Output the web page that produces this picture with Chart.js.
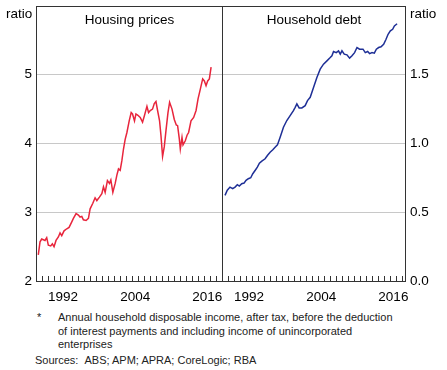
<!DOCTYPE html>
<html>
<head>
<meta charset="utf-8">
<script src="https://cdn.jsdelivr.net/npm/chart.js@4.4.0/dist/chart.umd.min.js"></script>
<style>
  body { margin: 0; background: #fff; font-family: Arial, "Liberation Sans", sans-serif; }
  #wrap { position: relative; width: 447px; height: 370px; overflow: hidden; }
  canvas { position: absolute; top: 0; }
  .lbl { position: absolute; font-size: 13.5px; color: #000; white-space: nowrap; line-height: 1; }
  .note { position: absolute; font-size: 11px; color: #222; line-height: 13.5px; }
</style>
</head>
<body>
<div id="wrap">
  <canvas id="housingChart" width="223" height="305" style="left:0"></canvas>
  <canvas id="debtChart" width="225" height="305" style="left:222px"></canvas>
  <div class="lbl" style="left:6px;top:7px">ratio</div>
  <div class="lbl" style="left:410px;top:7px">ratio</div>
  <div class="lbl" style="left:36px;width:187px;text-align:center;top:13px">Housing prices</div>
  <div class="lbl" style="left:222px;width:184px;text-align:center;top:13px">Household debt</div>
  <div class="note" style="left:37px;top:311px">*</div>
  <div class="note" style="left:58px;top:311px;width:345px">Annual household disposable income, after tax, before the deduction of interest payments and including income of unincorporated enterprises</div>
  <div class="note" style="left:35px;top:354px">Sources:&nbsp;&nbsp;ABS; APM; APRA; CoreLogic; RBA</div>
</div>
<script>
// housing prices to income ratio (left panel)
const housingYears = [1988.38, 1988.67, 1988.95, 1989.5, 1989.78, 1990.05, 1990.45, 1990.72, 1991.0, 1991.33,
  1991.72, 1992.0, 1992.28, 1992.67, 1993.12, 1993.5, 1993.95, 1994.22, 1994.67, 1995.05,
  1995.33, 1995.62, 1995.88, 1996.33, 1996.72, 1997.0, 1997.45, 1997.83, 1998.12, 1998.55,
  1998.95, 1999.22, 1999.5, 1999.88, 2000.22, 2000.45, 2000.78, 2001.17, 2001.45, 2001.72,
  2002.0, 2002.28, 2002.55, 2002.83, 2003.12, 2003.5, 2003.83, 2004.05, 2004.38, 2004.62,
  2004.95, 2005.33, 2005.72, 2006.05, 2006.45, 2006.72, 2007.0, 2007.38, 2007.67, 2007.95,
  2008.22, 2008.55, 2008.78, 2009.05, 2009.33, 2009.62, 2009.95, 2010.22, 2010.62, 2011.0,
  2011.33, 2011.55, 2011.83, 2012.0, 2012.28, 2012.45, 2012.83, 2013.12, 2013.38, 2013.78,
  2014.22, 2014.62, 2014.95, 2015.33, 2015.72, 2016.0, 2016.28, 2016.55, 2016.83, 2017.12];
const housingRatio = [2.38, 2.57, 2.61, 2.59, 2.63, 2.52, 2.51, 2.54, 2.50, 2.59,
  2.64, 2.70, 2.66, 2.73, 2.76, 2.78, 2.86, 2.91, 2.98, 2.96,
  2.93, 2.94, 2.89, 2.88, 2.91, 3.05, 3.13, 3.21, 3.17, 3.22,
  3.27, 3.37, 3.29, 3.46, 3.42, 3.47, 3.29, 3.42, 3.54, 3.63,
  3.61, 3.75, 3.92, 4.06, 4.16, 4.33, 4.45, 4.43, 4.33, 4.43,
  4.41, 4.38, 4.31, 4.41, 4.54, 4.45, 4.48, 4.50, 4.58, 4.61,
  4.48, 4.33, 4.12, 3.81, 3.95, 4.19, 4.45, 4.60, 4.50, 4.35,
  4.27, 4.26, 4.07, 3.92, 4.09, 3.98, 4.04, 4.12, 4.16, 4.33,
  4.38, 4.48, 4.65, 4.79, 4.94, 4.91, 4.84, 4.91, 4.94, 5.11];

// household debt to income ratio (right panel)
const debtYears = [1988.5, 1988.88, 1989.33, 1989.78, 1990.17, 1990.55, 1990.88, 1991.28, 1991.67, 1992.0,
  1992.38, 1992.78, 1993.12, 1993.5, 1993.88, 1994.22, 1994.62, 1995.17, 1995.55, 1996.0,
  1996.45, 1996.83, 1997.22, 1997.67, 1998.22, 1998.78, 1999.33, 1999.88, 2000.17, 2000.45,
  2000.83, 2001.28, 2001.83, 2002.22, 2002.67, 2003.22, 2003.78, 2004.33, 2004.88, 2005.45,
  2006.0, 2006.28, 2006.55, 2007.0, 2007.38, 2007.67, 2007.95, 2008.33, 2008.78, 2009.22,
  2009.62, 2010.05, 2010.45, 2010.88, 2011.45, 2011.83, 2012.22, 2012.55, 2012.95, 2013.33,
  2013.67, 2014.05, 2014.45, 2014.88, 2015.28, 2015.62, 2016.0, 2016.38, 2016.67, 2017.12];
const debtRatio = [0.623, 0.66, 0.683, 0.672, 0.683, 0.70, 0.69, 0.708, 0.712, 0.732,
  0.744, 0.751, 0.78, 0.804, 0.828, 0.857, 0.872, 0.889, 0.913, 0.937,
  0.954, 0.973, 0.99, 1.046, 1.118, 1.167, 1.203, 1.239, 1.263, 1.288,
  1.259, 1.259, 1.275, 1.312, 1.336, 1.408, 1.48, 1.541, 1.577, 1.601,
  1.625, 1.638, 1.669, 1.661, 1.674, 1.650, 1.674, 1.65, 1.645, 1.621,
  1.638, 1.661, 1.698, 1.686, 1.686, 1.661, 1.669, 1.654, 1.661, 1.657,
  1.686, 1.698, 1.703, 1.722, 1.758, 1.794, 1.819, 1.831, 1.855, 1.871];

const yearLabels = [1992, 2004, 2016];

// frame round the panel and the small year ticks on the bottom edge
const frameAndYears = {
  id: "frameAndYears",
  afterDraw(chart) {
    const { ctx, chartArea: a } = chart;
    const x = chart.scales.x;
    const left = Math.round(a.left), right = Math.round(a.right);
    const top = Math.round(a.top), bottom = Math.round(a.bottom);
    ctx.save();
    ctx.fillStyle = "#333";
    for (let yr = 1989; yr < x.max; yr++) {
      const px = Math.round(x.getPixelForValue(yr));
      ctx.fillRect(px, bottom - 5, 1, 6);
    }
    ctx.strokeStyle = "#333";
    ctx.lineWidth = 1;
    ctx.strokeRect(left + 0.5, top + 0.5, right - left - 1, bottom - top);
    ctx.restore();
  }
};

function makeChart(id, years, values, color, yOpts) {
  const ctx = document.getElementById(id).getContext("2d");
  return new Chart(ctx, {
    type: "line",
    data: {
      datasets: [{
        data: years.map((y, i) => ({ x: y, y: values[i] })),
        borderColor: color,
        borderWidth: 1.5,
        pointRadius: 0,
        tension: 0,
        fill: false
      }]
    },
    options: {
      responsive: false,
      animation: false,
      devicePixelRatio: 1,
      layout: { padding: { top: 6, left: 0, right: 0, bottom: 0 } },
      plugins: { legend: { display: false }, tooltip: { enabled: false } },
      scales: {
        x: {
          type: "linear",
          min: 1988,
          max: yOpts.xMax,
          afterBuildTicks: (s) => { s.ticks = yearLabels.map(y => ({ value: y + 0.5 })); },
          afterFit: (s) => { s.height = 24; s.paddingLeft = 0; s.paddingRight = 0; },
          grid: { display: false },
          border: { display: false },
          ticks: {
            callback: (v) => String(Math.floor(v)),
            color: "#000",
            font: { family: "Arial, 'Liberation Sans'", size: 13.5 },
            maxRotation: 0,
            autoSkip: false,
            padding: 0
          }
        },
        y: {
          position: yOpts.position,
          min: yOpts.min,
          max: yOpts.max,
          // keep the panel edges fixed: no extra room for the end labels
          afterFit: (s) => { s.width = yOpts.width; s.paddingTop = 0; s.paddingBottom = 0; },
          grid: { color: "#c8c8c8", lineWidth: 1, drawTicks: false },
          border: { display: false },
          ticks: {
            stepSize: yOpts.step,
            callback: yOpts.label,
            color: "#000",
            font: { family: "Arial, 'Liberation Sans'", size: 13.5 },
            padding: 4
          }
        }
      }
    },
    plugins: [frameAndYears]
  });
}

makeChart("housingChart", housingYears, housingRatio, "#e8253c", {
  position: "left", min: 2, max: 6, step: 1, width: 36, xMax: 2019.1,
  label: (v) => (v === 6 ? "" : String(v))
});

makeChart("debtChart", debtYears, debtRatio, "#1e2f96", {
  position: "right", min: 0, max: 2, step: 0.5, width: 41, xMax: 2018.6,
  label: (v) => (v === 2 ? "" : v.toFixed(1))
});
</script>
</body>
</html>
